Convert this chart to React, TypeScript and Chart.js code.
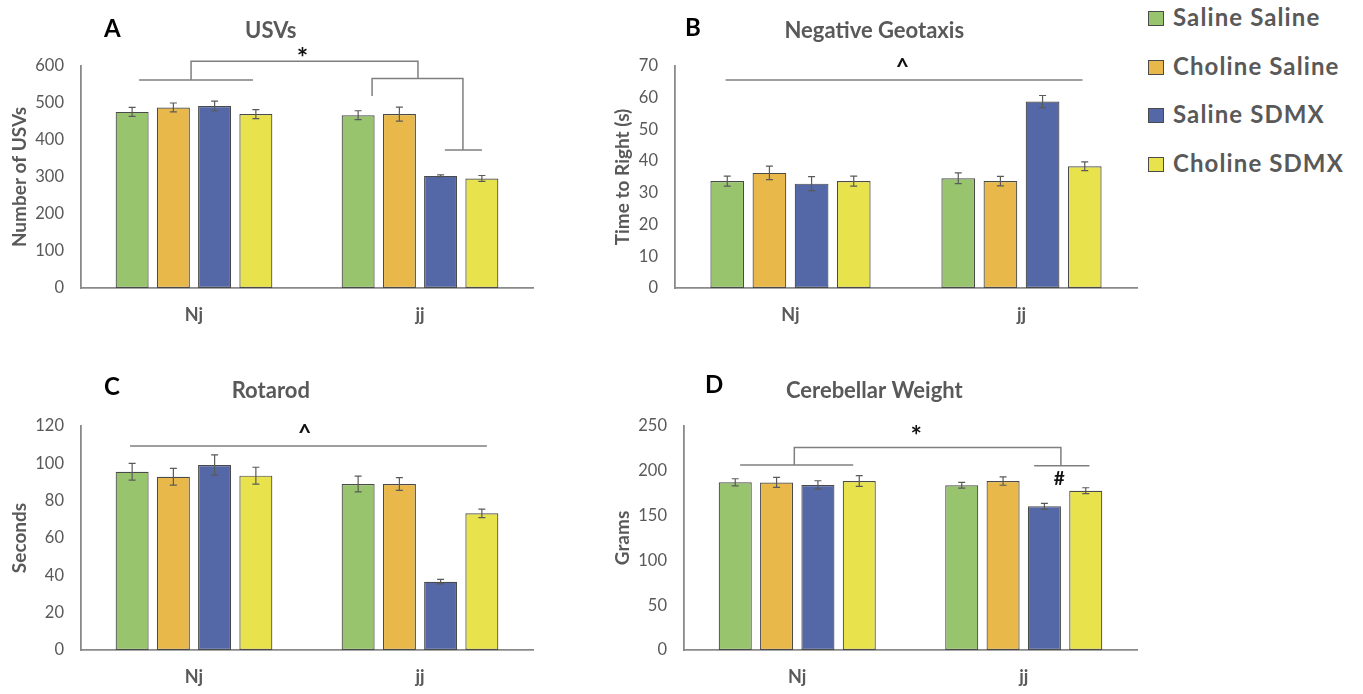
import React, { useEffect, useRef } from "react";
import { Chart, registerables } from "chart.js";

Chart.register(...registerables);
Chart.defaults.font.family = "Lato";

// ---------- data ----------
const groups = ["Nj", "jj"];
const treatments = ["Saline Saline", "Choline Saline", "Saline SDMX", "Choline SDMX"];
const treatmentColors = ["#98C46E", "#E8B84A", "#5467A6", "#E8E24C"];

// A: USVs
const usvNj = [476, 488, 492, 470];
const usvJj = [467, 470, 303, 296];
const usvNjErr = [12, 12, 13, 12];
const usvJjErr = [12, 19, 3, 8];
const usvTicks = [0, 100, 200, 300, 400, 500, 600];

// B: Negative Geotaxis
const geoNj = [33.7, 36.3, 32.9, 33.7];
const geoJj = [34.6, 33.7, 58.8, 38.4];
const geoNjErr = [1.6, 2.1, 2.2, 1.6];
const geoJjErr = [1.7, 1.5, 1.9, 1.4];
const geoTicks = [0, 10, 20, 30, 40, 50, 60, 70];

// C: Rotarod
const rotNj = [95.5, 92.8, 99.1, 93.4];
const rotJj = [88.9, 88.9, 36.6, 73.2];
const rotNjErr = [4.5, 4.5, 5.4, 4.5];
const rotJjErr = [4.2, 3.4, 1.2, 2.3];
const rotTicks = [0, 20, 40, 60, 80, 100, 120];

// D: Cerebellar Weight
const cbwNj = [187.1, 187.0, 184.2, 188.6];
const cbwJj = [183.8, 188.6, 160.3, 177.8];
const cbwNjErr = [4.0, 5.6, 4.7, 6.0];
const cbwJjErr = [3.2, 4.7, 3.3, 3.3];
const cbwTicks = [0, 50, 100, 150, 200, 250];

// significance marks, in (category index, value) units
const usvLines: [number, number][][] = [
  [[-0.243, 562], [0.261, 562]],
  [[-0.013, 562], [-0.013, 613], [0.991, 613], [0.991, 566]],
  [[0.788, 519], [0.788, 566], [1.19, 566], [1.19, 373]],
  [[1.11, 373], [1.274, 373]],
];
const usvTexts = [{ text: "*", x: 0.48, y: 638 }];

const geoLines: [number, number][][] = [[[-0.281, 65.6], [1.264, 65.6]]];
const geoTexts = [{ text: "^", x: 0.485, y: 71 }];

const rotLines: [number, number][][] = [[[-0.283, 109.3], [1.296, 109.3]]];
const rotTexts = [{ text: "^", x: 0.49, y: 118.9 }];

const cbwLines: [number, number][][] = [
  [[-0.252, 206.5], [0.247, 206.5]],
  [[-0.013, 206.5], [-0.013, 226], [1.164, 226], [1.164, 205.5]],
  [[1.046, 205.5], [1.29, 205.5]],
];
const cbwTexts = [
  { text: "*", x: 0.525, y: 245.5 },
  { text: "#", x: 1.157, y: 192 },
];

// ---------- styles ----------
const GRAY_TEXT = "#595959";
const AXIS = "#8a8a8a";

const errorBarPlugin = {
  id: "errorBars",
  afterDatasetsDraw(chart: any) {
    const ctx = chart.ctx;
    const y = chart.scales.y;
    ctx.save();
    ctx.strokeStyle = "#5a5a5a";
    ctx.lineWidth = 1.2;
    chart.data.datasets.forEach((ds: any, d: number) => {
      const meta = chart.getDatasetMeta(d);
      meta.data.forEach((bar: any, i: number) => {
        const v = ds.data[i];
        const e = ds.errors[i];
        const top = y.getPixelForValue(v + e);
        const bot = y.getPixelForValue(v - e);
        ctx.beginPath();
        ctx.moveTo(bar.x, top);
        ctx.lineTo(bar.x, bot);
        ctx.moveTo(bar.x - 3.5, top);
        ctx.lineTo(bar.x + 3.5, top);
        ctx.moveTo(bar.x - 3.5, bot);
        ctx.lineTo(bar.x + 3.5, bot);
        ctx.stroke();
      });
    });
    ctx.restore();
  },
};

function makeSigPlugin(lines: [number, number][][], texts: { text: string; x: number; y: number }[]) {
  return {
    id: "sigMarks",
    afterDraw(chart: any) {
      const ctx = chart.ctx;
      const xs = chart.scales.x;
      const ys = chart.scales.y;
      ctx.save();
      ctx.strokeStyle = "#7f7f7f";
      ctx.lineWidth = 1.5;
      lines.forEach((pts) => {
        ctx.beginPath();
        pts.forEach(([xv, yv], k) => {
          const px = xs.getPixelForValue(xv);
          const py = ys.getPixelForValue(yv);
          if (k === 0) ctx.moveTo(px, py);
          else ctx.lineTo(px, py);
        });
        ctx.stroke();
      });
      ctx.fillStyle = "#111";
      texts.forEach((t) => {
        const size = t.text === "#" ? 19 : t.text === "*" ? 27 : 23;
        ctx.font = `bold ${size}px Lato`;
        ctx.textAlign = "center";
        ctx.textBaseline = "alphabetic";
        const m = ctx.measureText(t.text);
        const px = xs.getPixelForValue(t.x);
        const py = ys.getPixelForValue(t.y);
        const base = py - (m.actualBoundingBoxDescent - m.actualBoundingBoxAscent) / 2;
        ctx.fillText(t.text, px, base);
      });
      ctx.restore();
    },
  };
}

type PanelSpec = {
  title: string;
  yTitle: string;
  nj: number[];
  jj: number[];
  njErr: number[];
  jjErr: number[];
  ticks: number[];
  lines: [number, number][][];
  texts: { text: string; x: number; y: number }[];
  left: number;
  top: number;
  width: number;
  height: number;
  padLeft: number;
  padRight: number;
  padBottom: number;
  yWidth: number;
};

function Panel({ spec }: { spec: PanelSpec }) {
  const ref = useRef<HTMLCanvasElement>(null);
  useEffect(() => {
    const datasets = treatments.map((name, i) => ({
      label: name,
      data: [spec.nj[i], spec.jj[i]],
      errors: [spec.njErr[i], spec.jjErr[i]],
      backgroundColor: treatmentColors[i],
      borderColor: "#4a4a4a",
      borderWidth: 1.2,
      borderSkipped: false,
      categoryPercentage: 0.73,
      barPercentage: 0.8,
    }));
    const t = spec.ticks;
    const chart = new Chart(ref.current as HTMLCanvasElement, {
      type: "bar",
      data: { labels: groups, datasets: datasets as any },
      options: {
        responsive: false,
        animation: false,
        layout: {
          padding: { left: spec.padLeft, right: spec.padRight, top: 0, bottom: spec.padBottom },
        },
        plugins: {
          legend: { display: false },
          tooltip: { enabled: false },
          title: {
            display: true,
            text: spec.title,
            color: GRAY_TEXT,
            font: { family: "Lato", size: 22, weight: "bold" },
            padding: { top: 17.3, bottom: 22.3 },
          },
        },
        scales: {
          x: {
            grid: { display: false, drawTicks: false },
            border: { display: true, color: AXIS, width: 1.8 },
            ticks: {
              color: GRAY_TEXT,
              font: { family: "Lato", size: 18, weight: "bold" },
              padding: 16,
            },
            afterFit: (s: any) => {
              s.height = 42;
            },
          },
          y: {
            min: t[0],
            max: t[t.length - 1],
            grid: { display: false, drawTicks: false },
            border: { display: true, color: AXIS, width: 1.8 },
            ticks: {
              stepSize: t[1] - t[0],
              color: GRAY_TEXT,
              font: { family: "Lato", size: 16.5 },
              padding: 17,
            },
            title: {
              display: true,
              text: spec.yTitle,
              color: GRAY_TEXT,
              font: { family: "Lato", size: 19, weight: "bold" },
              padding: 0,
            },
            afterFit: (s: any) => {
              s.width = spec.yWidth;
            },
          },
        },
      } as any,
      plugins: [errorBarPlugin, makeSigPlugin(spec.lines, spec.texts)],
    });
    return () => chart.destroy();
  }, []);
  return (
    <canvas
      ref={ref}
      width={spec.width}
      height={spec.height}
      style={{ position: "absolute", left: spec.left, top: spec.top, width: spec.width, height: spec.height }}
    />
  );
}

const panels: PanelSpec[] = [
  {
    title: "USVs", yTitle: "Number of USVs",
    nj: usvNj, jj: usvJj, njErr: usvNjErr, jjErr: usvJjErr, ticks: usvTicks,
    lines: usvLines, texts: usvTexts,
    left: 0, top: 0, width: 560, height: 340, padLeft: 8.6, padRight: 27, padBottom: 10, yWidth: 72.4,
  },
  {
    title: "Negative Geotaxis", yTitle: "Time to Right (s)",
    nj: geoNj, jj: geoJj, njErr: geoNjErr, jjErr: geoJjErr, ticks: geoTicks,
    lines: geoLines, texts: geoTexts,
    left: 590, top: 0, width: 552, height: 340, padLeft: 21.6, padRight: 5, padBottom: 10, yWidth: 63.4,
  },
  {
    title: "Rotarod", yTitle: "Seconds",
    nj: rotNj, jj: rotJj, njErr: rotNjErr, jjErr: rotJjErr, ticks: rotTicks,
    lines: rotLines, texts: rotTexts,
    left: 0, top: 360, width: 560, height: 334, padLeft: 8.6, padRight: 27, padBottom: 2, yWidth: 72.4,
  },
  {
    title: "Cerebellar Weight", yTitle: "Grams",
    nj: cbwNj, jj: cbwJj, njErr: cbwNjErr, jjErr: cbwJjErr, ticks: cbwTicks,
    lines: cbwLines, texts: cbwTexts,
    left: 590, top: 360, width: 552, height: 334, padLeft: 21.6, padRight: 5, padBottom: 2, yWidth: 72.4,
  },
];

const panelLetters = [
  { text: "A", left: 104, baseline: 37 },
  { text: "B", left: 685, baseline: 36 },
  { text: "C", left: 104, baseline: 395 },
  { text: "D", left: 705, baseline: 393 },
];

export default function App() {
  return (
    <div
      style={{
        position: "absolute",
        left: 0,
        top: 0,
        width: 1363,
        height: 694,
        background: "#fff",
        overflow: "hidden",
        fontFamily: "Lato",
      }}
    >
      {panels.map((p, i) => (
        <Panel key={i} spec={p} />
      ))}
      {panelLetters.map((l) => (
        <div
          key={l.text}
          style={{
            position: "absolute",
            left: l.left,
            top: l.baseline - 21.3,
            fontSize: 24,
            lineHeight: "24px",
            fontWeight: 700,
            color: "#000",
          }}
        >
          {l.text}
        </div>
      ))}
      {treatments.map((name, i) => {
        const baseline = 26.5 + i * 48.5;
        return (
          <React.Fragment key={name}>
            <div
              style={{
                position: "absolute",
                left: 1148,
                top: baseline - 15.5,
                width: 14,
                height: 13,
                background: treatmentColors[i],
                border: "1px solid #4a4a4a",
              }}
            />
            <div
              style={{
                position: "absolute",
                left: 1173,
                top: baseline - 21.3,
                fontSize: 24,
                lineHeight: "24px",
                letterSpacing: "1.1px",
                fontWeight: 700,
                color: GRAY_TEXT,
                whiteSpace: "nowrap",
              }}
            >
              {name}
            </div>
          </React.Fragment>
        );
      })}
    </div>
  );
}
